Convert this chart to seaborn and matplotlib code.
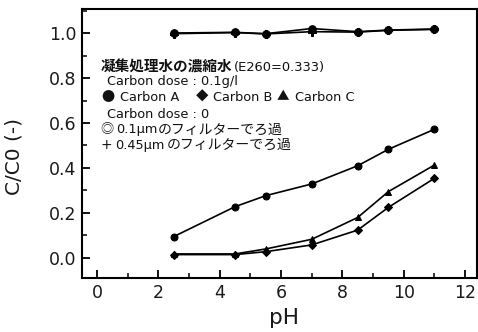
import numpy as np
import pandas as pd
import matplotlib
matplotlib.use("Agg")
import matplotlib.pyplot as plt
from matplotlib.ticker import MultipleLocator, FormatStrFormatter
import seaborn as sns

# pH sampling points shared by every series
ph = [2.5, 4.5, 5.5, 7.0, 8.5, 9.5, 11.0]

# Carbon dose 0 (filtration only)
filt_01 = [1.000, 1.003, 0.997, 1.020, 1.006, 1.013, 1.018]
filt_045 = [0.997, 1.002, 0.996, 1.006, 1.004, 1.012, 1.016]

# Carbon dose 0.1 g/l
carbon_a = [0.095, 0.228, 0.277, 0.329, 0.410, 0.483, 0.572]
carbon_b = [0.015, 0.015, 0.028, 0.058, 0.124, 0.225, 0.354]
carbon_c = [0.018, 0.018, 0.040, 0.083, 0.180, 0.295, 0.413]

series = {
    "0.1um": filt_01,
    "0.45um": filt_045,
    "Carbon A": carbon_a,
    "Carbon B": carbon_b,
    "Carbon C": carbon_c,
}
df = pd.concat(
    [pd.DataFrame({"pH": ph, "C/C0": v, "series": k}) for k, v in series.items()],
    ignore_index=True,
)

sns.set_theme(style="white")
plt.rcParams["font.family"] = ["DejaVu Sans", "Noto Sans CJK JP"]
CJK = ["Noto Sans CJK JP", "DejaVu Sans"]

W, H = 478, 332
fig = plt.figure(figsize=(W / 100, H / 100), dpi=100)
ax = fig.add_axes([82 / W, (H - 278) / H, 395 / W, 269.5 / H])

markers = {"0.1um": "o", "0.45um": "P", "Carbon A": "o", "Carbon B": "D", "Carbon C": "^"}
sizes = {"0.1um": 5.5, "0.45um": 5.5, "Carbon A": 5, "Carbon B": 4.5, "Carbon C": 5}
for name in series:
    sub = df[df["series"] == name]
    sns.lineplot(
        data=sub, x="pH", y="C/C0", ax=ax, color="black", lw=1.2,
        marker=markers[name], markersize=sizes[name],
        markeredgecolor="black", markerfacecolor="black", legend=False,
    )

ax.set_xlim(-0.49, 12.39)
ax.set_ylim(-0.089, 1.109)
ax.xaxis.set_major_locator(MultipleLocator(2))
ax.xaxis.set_minor_locator(MultipleLocator(1))
ax.yaxis.set_major_locator(MultipleLocator(0.2))
ax.yaxis.set_minor_locator(MultipleLocator(0.1))
ax.yaxis.set_major_formatter(FormatStrFormatter("%.1f"))
ax.tick_params(which="major", direction="in", length=6, width=1.3, color="black",
               labelsize=12.5, pad=4, labelcolor="#1a1a1a")
ax.tick_params(which="minor", direction="in", length=3.5, width=1.1, color="black")
ax.tick_params(axis="x", which="both", bottom=True)
ax.tick_params(axis="y", which="both", left=True)
for sp in ax.spines.values():
    sp.set_color("black")
    sp.set_linewidth(1.5)

ax.set_xlabel("pH", fontsize=15.5, color="#1a1a1a")
ax.set_ylabel("C/C0 (-)", fontsize=14.5, color="#1a1a1a")
ax.xaxis.set_label_coords(0.511, -0.112)
ax.yaxis.set_label_coords(-0.147, 0.449)


def put(px, py, txt, size, family=None, weight="normal"):
    kw = {"family": family} if family else {}
    fig.text(px / W, 1 - py / H, txt, fontsize=size, fontweight=weight,
             va="center", ha="left", color="#111111", **kw)


# annotation block: sample and marker key
put(101, 67, "凝集処理水の濃縮水", 10.5, CJK, "bold")
put(234, 67, "(E260=0.333)", 9.4)
put(107, 82, "Carbon dose : 0.1g/l", 9.3)
put(101, 97, "●", 9.5, CJK)
put(120, 97, "Carbon A", 9.3)
put(196, 97, "◆", 9, CJK)
put(213, 97, "Carbon B", 9.3)
put(277, 97, "▲", 9, CJK)
put(295, 97, "Carbon C", 9.3)
put(107, 115, "Carbon dose : 0", 9.3)
put(100, 130, "◎", 9.5, CJK)
put(116, 130, "0.1μm", 9.3)
put(158, 130, "のフィルターでろ過", 10, CJK)
put(100, 145, "+", 10)
put(115, 145, "0.45μm", 9.3)
put(167, 145, "のフィルターでろ過", 10, CJK)

fig.savefig("out.png", dpi=100)
